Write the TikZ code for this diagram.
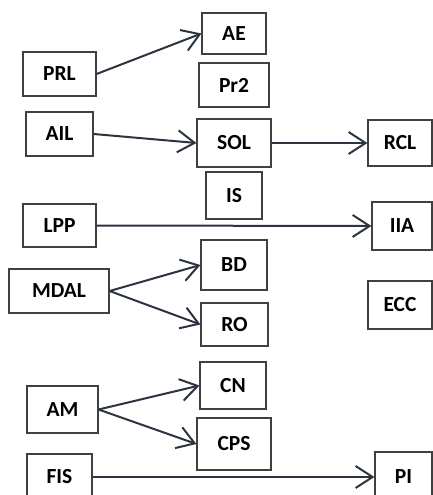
\documentclass[tikz,border=0pt]{standalone}
\usepackage{fontspec}
\setmainfont{Carlito}
\usetikzlibrary{arrows.meta}
\definecolor{arrowc}{HTML}{2C3440}
\definecolor{boxc}{HTML}{404040}
\tikzset{
  bx/.style={draw=boxc, line width=1.1pt, fill=white, inner sep=0pt,
    font=\fontsize{21.5}{21.5}\selectfont\bfseries, text=black},
  arr/.style={draw=arrowc, line width=2pt,
    -{Straight Barb[length=17pt,width=22pt,line width=2pt]}}
}
\begin{document}
\begin{tikzpicture}[x=1pt,y=-1pt]
\useasboundingbox (0,0) rectangle (433,495);
\node[bx, minimum width=64pt, minimum height=41pt] (AE) at (234,33.5) {AE};
\node[bx, minimum width=73pt, minimum height=44pt] (PRL) at (59.5,74) {PRL};
\node[bx, minimum width=70pt, minimum height=44pt] (Pr2) at (234,85) {Pr2};
\node[bx, minimum width=67pt, minimum height=44pt] (AIL) at (59.5,134) {AIL};
\node[bx, minimum width=74pt, minimum height=48pt] (SOL) at (234,143) {SOL};
\node[bx, minimum width=64pt, minimum height=46pt] (RCL) at (400,143) {RCL};
\node[bx, minimum width=56pt, minimum height=47pt] (IS) at (234,195.5) {IS};
\node[bx, minimum width=73pt, minimum height=43pt] (LPP) at (59.5,225.5) {LPP};
\node[bx, minimum width=60pt, minimum height=48pt] (IIA) at (402,226) {IIA};
\node[bx, minimum width=66pt, minimum height=50pt] (BD) at (234,265) {BD};
\node[bx, minimum width=100pt, minimum height=44pt] (MDAL) at (59,291) {MDAL};
\node[bx, minimum width=64pt, minimum height=48pt] (ECC) at (400,305) {ECC};
\node[bx, minimum width=67pt, minimum height=43pt] (RO) at (234.5,324.5) {RO};
\node[bx, minimum width=66pt, minimum height=47pt] (CN) at (233,385.5) {CN};
\node[bx, minimum width=71pt, minimum height=47pt] (AM) at (62.5,409.5) {AM};
\node[bx, minimum width=74pt, minimum height=52pt] (CPS) at (234,444) {CPS};
\node[bx, minimum width=65pt, minimum height=46pt] (FIS) at (59.5,477) {FIS};
\node[bx, minimum width=57pt, minimum height=50pt] (PI) at (403.5,477) {PI};
\draw[arr] (PRL.east) -- (AE.west);
\draw[arr] (AIL.east) -- (SOL.west);
\draw[arr] (SOL.east) -- (RCL.west);
\draw[arr] (LPP.east) -- (IIA.west);
\draw[arr] (MDAL.east) -- (BD.west);
\draw[arr] (MDAL.east) -- (RO.west);
\draw[arr] (AM.east) -- (CN.west);
\draw[arr] (AM.east) -- (CPS.west);
\draw[arr] (FIS.east) -- (PI.west);
\end{tikzpicture}
\end{document}
